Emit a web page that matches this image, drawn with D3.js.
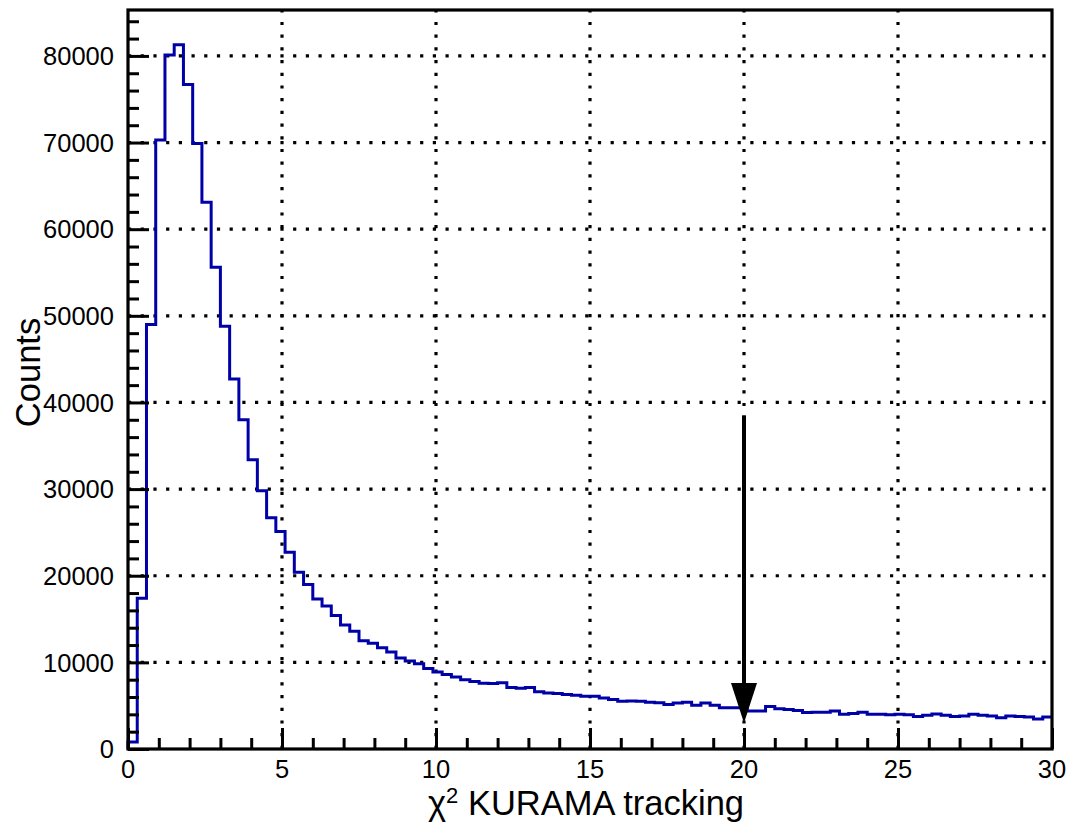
<!DOCTYPE html>
<html>
<head>
<meta charset="utf-8">
<script src="https://cdn.jsdelivr.net/npm/d3@7"></script>
<style>
  body { margin: 0; background: #fff; }
  text { font-family: "Liberation Sans", Arial, Helvetica, sans-serif; fill: #000; }
</style>
</head>
<body>
<svg id="chart" width="1072" height="825"></svg>
<script>
// histogram: 100 bins of 0.3 from 0 to 30
const binWidth = 0.3;
const counts = [
  800, 17400, 49000, 70300, 80100, 81300, 76700, 69900, 63100, 55600,
  48800, 42700, 38000, 33400, 29800, 26700, 25100, 22700, 20400, 19000,
  17300, 16500, 15400, 14300, 13600, 12500, 12200, 11700, 11200, 10500,
  10150, 9850, 9300, 8900, 8600, 8300, 8000, 7800, 7600, 7550,
  7650, 7100, 7000, 7100, 6600, 6450, 6400, 6300, 6200, 6100,
  6100, 5900, 5700, 5500, 5550, 5500, 5400, 5350, 5150, 5300,
  5400, 5050, 5300, 5050, 4750, 4750, 4750, 4400, 4400, 4900,
  4650, 4550, 4450, 4200, 4250, 4250, 4400, 4000, 4100, 4250,
  4000, 4000, 3950, 4000, 3950, 3750, 3900, 4050, 3900, 3750,
  3800, 4000, 3900, 3800, 3600, 3800, 3750, 3700, 3450, 3700
];
const xTicks = [0, 5, 10, 15, 20, 25, 30];
const yTicks = [0, 10000, 20000, 30000, 40000, 50000, 60000, 70000, 80000];
const xTitle = "KURAMA tracking";
const yTitle = "Counts";
// cut arrow
const cutX = 20;
const arrowTop = 38500;
const arrowTip = 3000;

const svg = d3.select("#chart");
const pl = 128, pr = 1052, pt = 10, pb = 749;

const x = d3.scaleLinear().domain([0, 30]).range([pl, pr]);
const y = d3.scaleLinear().domain([0, 85300]).range([pb, pt]);

// grid (dotted)
const grid = svg.append("g")
  .attr("stroke", "#000").attr("stroke-width", 3.2)
  .attr("stroke-dasharray", "3.2 9.5").attr("fill", "none");
grid.selectAll(".gx").data(xTicks.slice(1, -1)).join("line")
  .attr("x1", d => x(d)).attr("x2", d => x(d))
  .attr("y1", pb).attr("y2", pt);
grid.selectAll(".gy").data(yTicks.slice(1)).join("line")
  .attr("x1", pl).attr("x2", pr)
  .attr("y1", d => y(d)).attr("y2", d => y(d));

// histogram outline
const pts = [[0, 0]];
counts.forEach((c, i) => {
  pts.push([i * binWidth, c]);
  pts.push([(i + 1) * binWidth, c]);
});
const line = d3.line().x(d => x(d[0])).y(d => y(d[1]));
svg.append("path")
  .attr("d", line(pts))
  .attr("fill", "none")
  .attr("stroke", "#0000a8")
  .attr("stroke-width", 3)
  .attr("stroke-linejoin", "miter");

// axes with inward ticks
const xAxis = d3.axisTop(x).tickValues(d3.range(0, 31, 1)).tickFormat("").tickSize(10).tickSizeOuter(0);
const gx = svg.append("g").attr("transform", `translate(0,${pb})`).call(xAxis);
gx.selectAll(".tick line").attr("y2", (d) => d % 5 === 0 ? -21 : -11);
const yAxis = d3.axisRight(y).tickValues(d3.range(0, 85001, 2000)).tickFormat("").tickSize(10).tickSizeOuter(0);
const gy = svg.append("g").attr("transform", `translate(${pl},0)`).call(yAxis);
gy.selectAll(".tick line").attr("x2", (d) => d % 10000 === 0 ? 21 : 11);
[gx, gy].forEach(g => {
  g.select(".domain").remove();
  g.selectAll(".tick line").attr("stroke", "#000").attr("stroke-width", 3);
});

// frame
svg.append("rect")
  .attr("x", pl).attr("y", pt)
  .attr("width", pr - pl).attr("height", pb - pt)
  .attr("fill", "none").attr("stroke", "#000").attr("stroke-width", 3.2);

// tick labels
svg.append("g").selectAll("text").data(xTicks).join("text")
  .attr("x", d => x(d)).attr("y", pb + 29)
  .attr("text-anchor", "middle").attr("font-size", 25.5)
  .text(d => d);
svg.append("g").selectAll("text").data(yTicks).join("text")
  .attr("x", pl - 14).attr("y", d => y(d)).attr("dy", "0.36em")
  .attr("text-anchor", "end").attr("font-size", 25.5)
  .text(d => d);

// axis titles
const xt = svg.append("text")
  .attr("x", (pl + pr) / 2 - 4).attr("y", 815)
  .attr("text-anchor", "middle").attr("font-size", 34.5);
xt.append("tspan").text("χ");
xt.append("tspan").attr("font-size", 22).attr("dy", -12).text("2");
xt.append("tspan").attr("dy", 12).text(" " + xTitle);

svg.append("text")
  .attr("transform", `translate(40,${(pt + pb) / 2 - 7}) rotate(-90)`)
  .attr("text-anchor", "middle").attr("font-size", 34.5)
  .text(yTitle);

// arrow marking the cut
svg.append("line")
  .attr("x1", x(cutX)).attr("x2", x(cutX))
  .attr("y1", y(arrowTop)).attr("y2", y(arrowTip) - 30)
  .attr("stroke", "#000").attr("stroke-width", 4);
const tipY = y(arrowTip);
svg.append("path")
  .attr("d", `M${x(cutX)},${tipY} L${x(cutX) - 13},${tipY - 40} L${x(cutX) + 13},${tipY - 40} Z`)
  .attr("fill", "#000");
</script>
</body>
</html>
